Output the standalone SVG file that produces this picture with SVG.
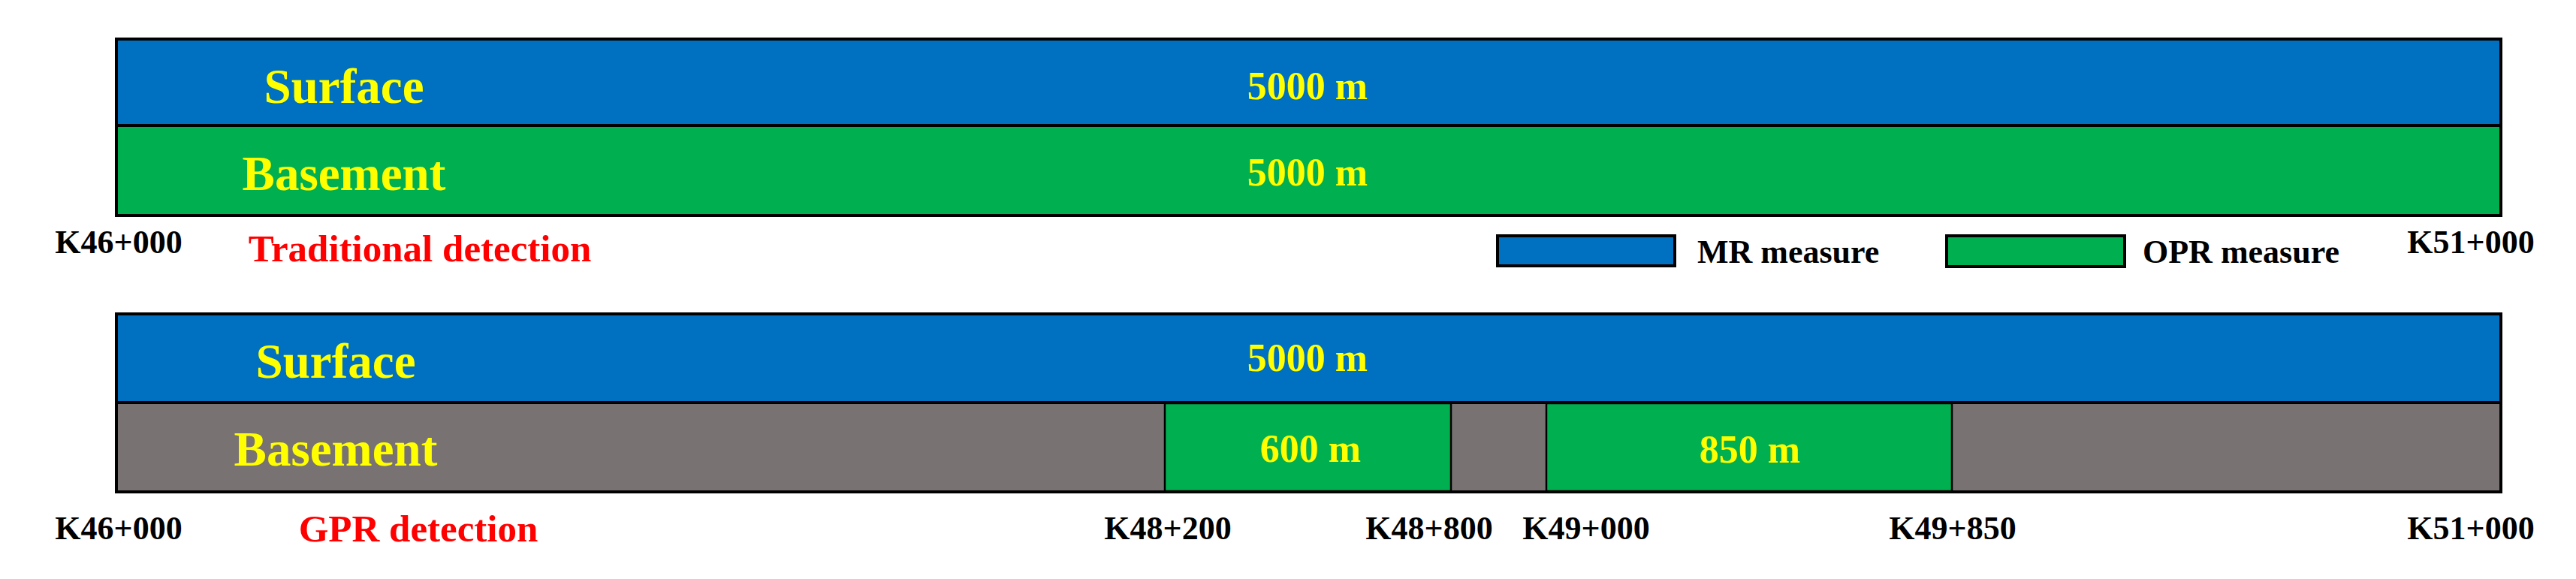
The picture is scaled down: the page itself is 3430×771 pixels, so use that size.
<svg xmlns="http://www.w3.org/2000/svg" width="3430" height="771" viewBox="0 0 3430 771">
<style>
text{font-family:"Liberation Serif","Times New Roman",serif;font-weight:bold}
.lbl{fill:#FFFF00;font-size:65px;text-anchor:middle}
.len{fill:#FFFF00;font-size:52px;text-anchor:middle}
.km{fill:#000;font-size:44px;text-anchor:middle}
.red{fill:#FF0000;font-size:51px;text-anchor:middle}
.leg{fill:#000;font-size:44px}
.band{stroke:#000;stroke-width:4}
.seg{stroke:#000;stroke-width:2.5}
.blue{fill:#0070C0}
.green{fill:#00B050}
.gray{fill:#787272}
</style>
<rect width="3430" height="771" fill="#fff"/>
<g id="traditional">
<g id="trad-surface">
<rect class="band blue" x="155" y="52" width="3175" height="115"/>
<text class="lbl" x="458" y="137">Surface</text>
<text class="len" x="1741" y="132">5000 m</text>
</g>
<g id="trad-basement">
<rect class="band green" x="155" y="167" width="3175" height="120"/>
<text class="lbl" x="458" y="253">Basement</text>
<text class="len" x="1741" y="247">5000 m</text>
</g>
<text class="km" x="158" y="337">K46+000</text>
<text class="km" x="3290" y="337">K51+000</text>
<text class="red" x="559" y="348">Traditional detection</text>
</g>
<g id="legend">
<g id="legend-mr">
<rect class="band blue" x="1994" y="314" width="236" height="40"/>
<text class="leg" x="2260" y="350">MR measure</text>
</g>
<g id="legend-opr">
<rect class="band green" x="2592" y="314" width="237" height="41"/>
<text class="leg" x="2853" y="350">OPR measure</text>
</g>
</g>
<g id="gpr">
<g id="gpr-surface">
<rect class="band blue" x="155" y="418" width="3175" height="118"/>
<text class="lbl" x="447" y="503">Surface</text>
<text class="len" x="1741" y="494">5000 m</text>
</g>
<g id="gpr-basement">
<rect class="band gray" x="155" y="536" width="3175" height="119"/>
<rect class="seg green" x="1551" y="537" width="381" height="117"/>
<rect class="seg green" x="2059" y="537" width="540" height="117"/>
<text class="lbl" x="447" y="620">Basement</text>
<text class="len" x="1745" y="615">600 m</text>
<text class="len" x="2330" y="616">850 m</text>
<line x1="155" y1="655" x2="3330" y2="655" stroke="#000" stroke-width="4"/>
<line x1="155" y1="536" x2="3330" y2="536" stroke="#000" stroke-width="4"/>
</g>
<text class="km" x="158" y="718">K46+000</text>
<text class="km" x="1555" y="718">K48+200</text>
<text class="km" x="1903" y="718">K48+800</text>
<text class="km" x="2112" y="718">K49+000</text>
<text class="km" x="2600" y="718">K49+850</text>
<text class="km" x="3290" y="718">K51+000</text>
<text class="red" x="557" y="721">GPR detection</text>
</g>
<g id="connectors"></g>
</svg>
